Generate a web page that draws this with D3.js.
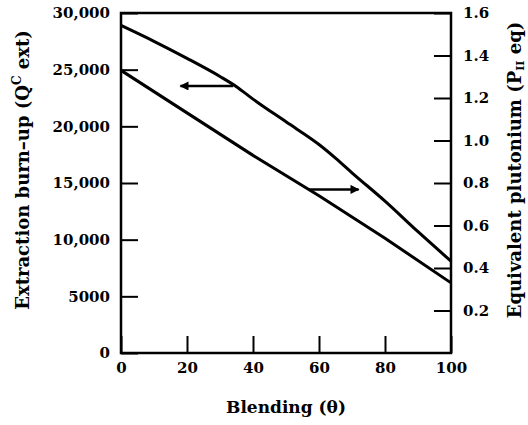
<!DOCTYPE html>
<html>
<head>
<meta charset="utf-8">
<script src="https://cdn.jsdelivr.net/npm/d3@7"></script>
<style>
  body { margin: 0; background: #fff; }
  svg text { font-family: "DejaVu Serif", serif; font-weight: bold; fill: #000; }
</style>
</head>
<body>
<div id="chart"></div>
<script>
// data
let blending = [0, 10, 20, 30, 35, 40, 50, 60, 65, 70, 80, 90, 100]
let burnup = [28900, 27500, 26000, 24400, 23500, 22400, 20400, 18400, 17200, 15900, 13400, 10700, 8100]
let puTheta = [0, 20, 40, 60, 80, 100]
let puEq = [1.33, 1.13, 0.93, 0.74, 0.54, 0.33]
let xTicks = [0, 20, 40, 60, 80, 100]
let leftTicks = [0, 5000, 10000, 15000, 20000, 25000, 30000]
let rightTicks = [0.2, 0.4, 0.6, 0.8, 1.0, 1.2, 1.4, 1.6]

let width = 528, height = 425
let margin = {left: 121, right: 77, top: 13, bottom: 72}

let x = d3.scaleLinear().domain([0, 100]).range([margin.left, width - margin.right])
let yL = d3.scaleLinear().domain([0, 30000]).range([height - margin.bottom, margin.top])
let yR = d3.scaleLinear().domain([0, 1.6]).range([height - margin.bottom, margin.top])

const svg = d3.select("#chart").append("svg")
    .attr("width", width)
    .attr("height", height)

//// axes with inward ticks
let fmtLeft = d => d >= 10000 ? d3.format(",")(d) : String(d)
svg.append("g")
    .attr("transform", `translate(${margin.left},0)`)
    .call(d3.axisLeft(yL).tickValues(leftTicks).tickFormat(fmtLeft).tickSizeInner(-17).tickSizeOuter(0).tickPadding(11))
svg.append("g")
    .attr("transform", `translate(${width - margin.right},0)`)
    .call(d3.axisRight(yR).tickValues(rightTicks).tickFormat(d3.format(".1f")).tickSizeInner(-17).tickSizeOuter(0).tickPadding(12))
svg.append("g")
    .attr("transform", `translate(0,${height - margin.bottom})`)
    .call(d3.axisBottom(x).tickValues(xTicks).tickSizeInner(-17).tickSizeOuter(0).tickPadding(9))

svg.selectAll(".tick line").attr("stroke", "#000").attr("stroke-width", 2)
svg.selectAll(".domain").remove()
svg.selectAll(".tick text").attr("font-size", 15).attr("font-family", "DejaVu Serif").attr("font-weight", "bold")

// frame
svg.append("rect")
    .attr("x", x(0)).attr("y", yL(30000))
    .attr("width", x(100) - x(0)).attr("height", yL(0) - yL(30000))
    .attr("fill", "none").attr("stroke", "#000").attr("stroke-width", 2.5)

//// curves
let lineL = d3.line().x((d, i) => x(blending[i])).y(d => yL(d)).curve(d3.curveMonotoneX)
let lineR = d3.line().x((d, i) => x(puTheta[i])).y(d => yR(d))
svg.append("path").datum(burnup)
    .attr("fill", "none").attr("stroke", "#000").attr("stroke-width", 3)
    .attr("stroke-linejoin", "round").attr("d", lineL)
svg.append("path").datum(puEq)
    .attr("fill", "none").attr("stroke", "#000").attr("stroke-width", 3)
    .attr("stroke-linejoin", "round").attr("d", lineR)

//// arrows
svg.append("defs").append("marker")
    .attr("id", "head").attr("viewBox", "0 0 10 10")
    .attr("refX", 9).attr("refY", 5)
    .attr("markerWidth", 13).attr("markerHeight", 9)
    .attr("markerUnits", "userSpaceOnUse")
    .attr("orient", "auto")
    .append("path").attr("d", "M0,0 L10,5 L0,10 Z").attr("fill", "#000")

let arrows = [
    {x1: 34, x2: 18, y: yL(23560)},
    {x1: 57, x2: 72, y: yR(0.77)}
]
svg.selectAll(".arrow").data(arrows).enter().append("line")
    .attr("x1", d => x(d.x1)).attr("x2", d => x(d.x2))
    .attr("y1", d => d.y).attr("y2", d => d.y)
    .attr("stroke", "#000").attr("stroke-width", 2.5)
    .attr("marker-end", "url(#head)")

//// axis titles
svg.append("text")
    .attr("x", (x(0) + x(100)) / 2).attr("y", 413)
    .attr("text-anchor", "middle").attr("font-size", 17)
    .text("Blending (θ)")

let lt = svg.append("text")
    .attr("transform", "translate(29,170) rotate(-90)")
    .attr("text-anchor", "middle").attr("font-size", 18)
lt.append("tspan").text("Extraction burn–up (Q")
lt.append("tspan").attr("font-size", 12).attr("dy", -8).text("C")
lt.append("tspan").attr("dy", 8).text(" ext)")

let rt = svg.append("text")
    .attr("transform", "translate(521,170) rotate(-90)")
    .attr("text-anchor", "middle").attr("font-size", 18)
rt.append("tspan").text("Equivalent plutonium (P")
rt.append("tspan").attr("font-size", 11).attr("dy", 3).text("II")
rt.append("tspan").attr("dy", -3).text(" eq)")
</script>
</body>
</html>
